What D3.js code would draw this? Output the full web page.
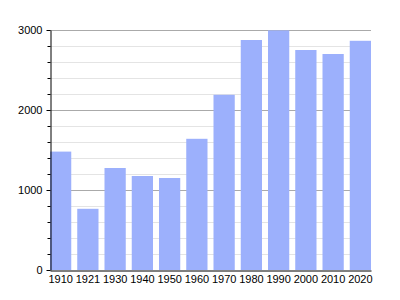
<!DOCTYPE html>
<html>
<head>
<meta charset="utf-8">
<script src="https://cdn.jsdelivr.net/npm/d3@7"></script>
<style>
  body { margin: 0; background: #fff; }
  svg text { font-family: "Liberation Sans", Arial, sans-serif; font-size: 11px; fill: #000; }
</style>
</head>
<body>
<div id="chart"></div>
<script>
const years = ["1910", "1921", "1930", "1940", "1950", "1960", "1970", "1980", "1990", "2000", "2010", "2020"];
const population = [1480, 765, 1275, 1175, 1150, 1640, 2190, 2875, 2995, 2750, 2700, 2865];
const majorTicks = [0, 1000, 2000, 3000];

const width = 400, height = 300;
const margin = { top: 30, right: 29, bottom: 30, left: 50 };

const svg = d3.select("#chart").append("svg")
  .attr("width", width)
  .attr("height", height);

const x = d3.scaleBand()
  .domain(years)
  .range([margin.left, width - margin.right])
  .paddingInner(0.22)
  .paddingOuter(0.0);

const y = d3.scaleLinear()
  .domain([0, 3000])
  .range([height - margin.bottom, margin.top]);

// minor grid lines every 200
const minor = d3.range(0, 3001, 200).filter(v => v % 1000 !== 0);
svg.append("g").selectAll("line")
  .data(minor)
  .join("line")
  .attr("x1", margin.left).attr("x2", width - margin.right)
  .attr("y1", d => y(d) + 0.5).attr("y2", d => y(d) + 0.5)
  .attr("stroke", "#e4e4e4");

// major grid lines
svg.append("g").selectAll("line")
  .data(majorTicks.filter(v => v > 0))
  .join("line")
  .attr("x1", margin.left).attr("x2", width - margin.right)
  .attr("y1", d => y(d) + 0.5).attr("y2", d => y(d) + 0.5)
  .attr("stroke", "#aaaaaa");

// bars
svg.append("g").selectAll("rect")
  .data(years.map((yr, i) => ({ year: yr, value: population[i] })))
  .join("rect")
  .attr("x", d => x(d.year))
  .attr("width", x.bandwidth())
  .attr("y", d => y(d.value))
  .attr("height", d => y(0) - y(d.value))
  .attr("fill", "#9cb0fc");

// y axis: minor ticks
svg.append("g")
  .attr("transform", `translate(${margin.left + 0.5},0)`)
  .call(d3.axisLeft(y).tickValues(minor).tickSize(3).tickFormat(""))
  .call(g => g.select(".domain").remove());

// y axis: major ticks with labels
svg.append("g")
  .attr("transform", `translate(${margin.left + 0.5},0)`)
  .call(d3.axisLeft(y).tickValues(majorTicks).tickSize(4).tickSizeOuter(0).tickFormat(d3.format("d")))
  .call(g => g.selectAll("text").attr("x", -8));

// x axis
svg.append("g")
  .attr("transform", `translate(0,${y(0) + 0.5})`)
  .call(d3.axisBottom(x).tickSize(0).tickSizeOuter(0))
  .call(g => g.selectAll("text").attr("y", 5));
</script>
</body>
</html>
